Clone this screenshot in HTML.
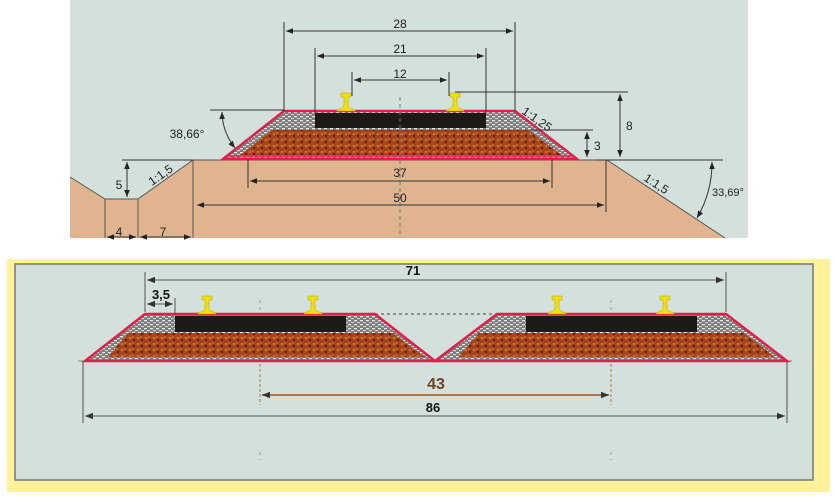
<!DOCTYPE html>
<html><head><meta charset="utf-8"><style>
html,body{margin:0;padding:0;background:#fff;}
svg{display:block;font-family:"Liberation Sans",sans-serif;}
</style></head><body>
<svg width="835" height="502" viewBox="0 0 835 502" xmlns="http://www.w3.org/2000/svg">
<defs>
<pattern id="gr" width="8" height="6" patternUnits="userSpaceOnUse">
<rect width="8" height="6" fill="#a4441c"/>
<circle cx="2" cy="2" r="1.3" fill="#d0702a"/><circle cx="6" cy="4" r="1.2" fill="#5a1e0c"/><circle cx="5" cy="1" r="0.8" fill="#e08a3a"/>
</pattern>
<pattern id="bl" width="6" height="4" patternUnits="userSpaceOnUse">
<rect width="6" height="4" fill="#7c7c7c"/>
<rect x="0" y="0" width="3" height="1.3" fill="#e8e8e8"/><rect x="3" y="2" width="3" height="1.2" fill="#d0d0d0"/>
</pattern>
<marker id="a" viewBox="0 0 10 10" refX="10" refY="5" markerWidth="8" markerHeight="7" markerUnits="userSpaceOnUse" orient="auto-start-reverse"><path d="M0,1 L10,5 L0,9z" fill="#222"/></marker>
<marker id="ab" viewBox="0 0 10 10" refX="10" refY="5" markerWidth="9" markerHeight="8" markerUnits="userSpaceOnUse" orient="auto-start-reverse"><path d="M0,1 L10,5 L0,9z" fill="#333"/></marker>
<g id="rail"><path d="M-5,0 h10 v4 h-3 v8 q0,3 7,5 v1 h-18 v-1 q7,-2 7,-5 v-8 h-3z" fill="#f1e00c" stroke="#b8a000" stroke-width="0.5"/></g>
</defs>

<!-- TOP -->
<rect x="70" y="0" width="678" height="238" fill="#d3e0dc"/>
<path d="M70,177 L105,199 L138,199 L193,160 L607,160 L725,238 L70,238z" fill="#dfb48f"/>
<path d="M70,177 L105,199 L138,199 L193,160 L607,160 L725,238" fill="none" stroke="#555" stroke-width="1"/>
<g stroke="#555" stroke-width="1">
<line x1="105" y1="199" x2="105" y2="238"/><line x1="138" y1="199" x2="138" y2="238"/><line x1="193" y1="160" x2="193" y2="238"/>
</g>
<polygon points="284,111 515,111 577,159 223,159" fill="url(#bl)"/>
<polygon points="272,130 528,130 562,155 240,155" fill="url(#gr)"/>
<rect x="315" y="113" width="171" height="15" fill="#1d1a18"/>
<polygon points="284,111 515,111 577,159 223,159" fill="none" stroke="#e0204a" stroke-width="2.5"/>
<line x1="226" y1="156" x2="574" y2="156" stroke="#e0204a" stroke-width="1.5"/>
<use href="#rail" x="346" y="93"/><use href="#rail" x="455" y="93"/>
<line x1="400" y1="97" x2="400" y2="238" stroke="#777" stroke-dasharray="4,3"/>
<g stroke="#333" stroke-width="1" fill="none">
<line x1="284" y1="22" x2="284" y2="111"/><line x1="515" y1="22" x2="515" y2="111"/>
<line x1="315" y1="48" x2="315" y2="113"/><line x1="486" y1="48" x2="486" y2="113"/>
<line x1="352" y1="72" x2="352" y2="96"/><line x1="449" y1="72" x2="449" y2="96"/>
<line x1="286" y1="31" x2="513" y2="31" marker-start="url(#a)" marker-end="url(#a)"/>
<line x1="317" y1="56" x2="484" y2="56" marker-start="url(#a)" marker-end="url(#a)"/>
<line x1="354" y1="80" x2="447" y2="80" marker-start="url(#a)" marker-end="url(#a)"/>
<line x1="248" y1="159" x2="248" y2="188"/><line x1="552" y1="159" x2="552" y2="188"/>
<line x1="250" y1="181" x2="550" y2="181" marker-start="url(#a)" marker-end="url(#a)"/>
<line x1="197" y1="205" x2="604" y2="205" marker-start="url(#a)" marker-end="url(#a)"/>
<line x1="606" y1="160" x2="606" y2="212"/>
<line x1="455" y1="92" x2="628" y2="92"/><line x1="620" y1="94" x2="620" y2="157" marker-start="url(#a)" marker-end="url(#a)"/>
<line x1="530" y1="130" x2="593" y2="130"/><line x1="587" y1="132" x2="587" y2="157" marker-start="url(#a)" marker-end="url(#a)"/>
<line x1="596" y1="160" x2="723" y2="160"/>
<path d="M712,162 A110,110 0 0 1 697,218" marker-start="url(#a)" marker-end="url(#a)"/>
<line x1="210" y1="110" x2="284" y2="110"/>
<path d="M222,112 A60,60 0 0 0 235,148" marker-start="url(#a)" marker-end="url(#a)"/>
<line x1="122" y1="160" x2="193" y2="160"/>
<line x1="127" y1="162" x2="127" y2="197" marker-start="url(#a)" marker-end="url(#a)"/>
<line x1="107" y1="237" x2="136" y2="237" marker-start="url(#a)" marker-end="url(#a)"/>
<line x1="140" y1="237" x2="191" y2="237" marker-start="url(#a)" marker-end="url(#a)"/>
</g>
<g font-size="12" fill="#222" text-anchor="middle">
<text x="400" y="28">28</text><text x="400" y="53">21</text><text x="400" y="78">12</text>
<text x="400" y="177">37</text><text x="400" y="202">50</text>
<text x="626" y="130" text-anchor="start">8</text><text x="594" y="150" text-anchor="start">3</text>
<text x="712" y="196" text-anchor="start" font-size="11">33,69°</text>
<text x="187" y="138">38,66°</text>
<text x="119" y="189">5</text><text x="119" y="236">4</text><text x="163" y="236">7</text>
<text x="0" y="0" transform="translate(521,113) rotate(35)" text-anchor="start">1:1,25</text>
<text x="0" y="0" transform="translate(643,180) rotate(33)" text-anchor="start">1:1,5</text>
<text x="0" y="0" transform="translate(152,186) rotate(-35)" text-anchor="start">1:1,5</text>
</g>

<!-- BOTTOM -->
<rect x="7" y="259" width="823" height="233" fill="#fff29a"/>
<rect x="15" y="264" width="798" height="216" fill="#d3e0dc" stroke="#777" stroke-width="1.5"/>
<line x1="78" y1="361" x2="792" y2="361" stroke="#a08060" stroke-width="1"/>
<line x1="375" y1="314" x2="497" y2="314" stroke="#444" stroke-dasharray="3,3"/>
<g>
<polygon points="145,314 375,314 435,361 85,361" fill="url(#bl)"/>
<polygon points="128,333 393,333 425,357 108,357" fill="url(#gr)"/>
<rect x="175" y="316" width="171" height="16" fill="#1d1a18"/>
<polygon points="145,314 375,314 435,361 85,361" fill="none" stroke="#e0204a" stroke-width="2.5"/>
<use href="#rail" x="207" y="296"/><use href="#rail" x="313" y="296"/>
</g>
<g>
<polygon points="497,314 726,314 787,361 435,361" fill="url(#bl)"/>
<polygon points="479,333 744,333 775,357 458,357" fill="url(#gr)"/>
<rect x="526" y="316" width="171" height="16" fill="#1d1a18"/>
<polygon points="497,314 726,314 787,361 435,361" fill="none" stroke="#e0204a" stroke-width="2.5"/>
<use href="#rail" x="557" y="296"/><use href="#rail" x="665" y="296"/>
</g>
<g stroke="#999" stroke-dasharray="3,4">
<line x1="260" y1="300" x2="260" y2="310"/><line x1="611" y1="300" x2="611" y2="310"/>
<line x1="260" y1="452" x2="260" y2="460"/><line x1="611" y1="452" x2="611" y2="460"/>
</g>
<g stroke="#b07840" stroke-dasharray="3,2"><line x1="260" y1="364" x2="260" y2="405"/><line x1="611" y1="364" x2="611" y2="405"/></g>
<g stroke="#555" stroke-width="1" fill="none">
<line x1="145" y1="272" x2="145" y2="312"/><line x1="726" y1="272" x2="726" y2="312"/>
<line x1="175" y1="298" x2="175" y2="314"/>
<line x1="147" y1="280" x2="724" y2="280" marker-start="url(#ab)" marker-end="url(#ab)"/>
<line x1="147" y1="304" x2="173" y2="304" marker-start="url(#ab)" marker-end="url(#ab)"/>
<line x1="83" y1="362" x2="83" y2="423"/><line x1="787" y1="362" x2="787" y2="423"/>
<line x1="85" y1="416" x2="785" y2="416" marker-start="url(#ab)" marker-end="url(#ab)"/>
<line x1="262" y1="395" x2="609" y2="395" stroke="#b07840" stroke-width="2" marker-start="url(#ab)" marker-end="url(#ab)"/>
</g>
<g font-weight="bold" text-anchor="middle">
<text x="413" y="275" font-size="13" fill="#111">71</text>
<text x="161" y="299" font-size="13" fill="#111">3,5</text>
<text x="436" y="389" font-size="16" fill="#6a4424">43</text>
<text x="433" y="412" font-size="13" fill="#111">86</text>
</g>
</svg>
</body></html>
